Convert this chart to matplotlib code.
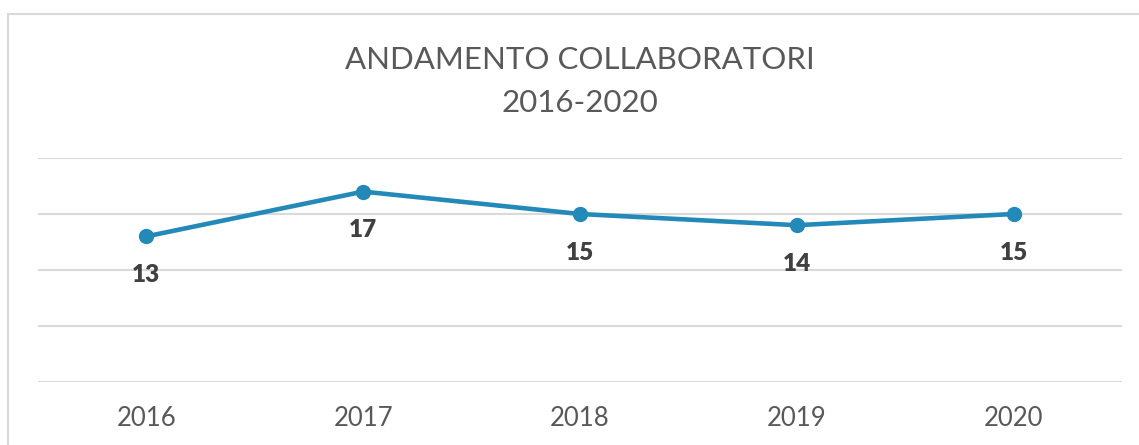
import matplotlib.pyplot as plt
from matplotlib.patches import Rectangle

anni = ['2016', '2017', '2018', '2019', '2020']
collaboratori = [13, 17, 15, 14, 15]

W, H = 1139, 445
fig = plt.figure(figsize=(W / 100, H / 100), dpi=100)
plt.rcParams['font.family'] = ['Lato', 'DejaVu Sans']

# chart frame (goes off the right/bottom edge)
fig.patches.append(Rectangle((8 / W, -0.1), 1.2, (H - 14) / H + 0.1,
                             transform=fig.transFigure, fill=False,
                             edgecolor='#d9d9d9', linewidth=1.5))

ax = fig.add_axes([38 / W, (H - 382) / H, (1122 - 38) / W, (382 - 158) / H])
x = list(range(len(anni)))
ax.plot(x, collaboratori, color='#2389b9', linewidth=3.3, marker='o',
        markersize=10, solid_capstyle='round', zorder=3)

for xi, v in zip(x, collaboratori):
    ax.annotate(str(v), (xi, v), xytext=(0, -28), textcoords='offset points',
                ha='center', va='center', fontsize=17.5, fontweight='heavy',
                color='#404040')

ax.set_xlim(-0.5, len(anni) - 0.5)
ax.set_ylim(0, 20)
ax.set_yticks([0, 5, 10, 15, 20])
ax.set_yticklabels([])
ax.set_xticks(x)
ax.set_xticklabels(anni, fontsize=18.5, color='#595959')
ax.tick_params(length=0, pad=17)
ax.grid(axis='y', color='#d9d9d9', linewidth=1.5)
ax.set_axisbelow(True)
for s in ax.spines.values():
    s.set_visible(False)

fig.text(580 / W, 1 - 60 / H, 'ANDAMENTO COLLABORATORI', ha='center', va='center',
         fontsize=22.5, color='#595959')
fig.text(580 / W, 1 - 103 / H, '2016-2020', ha='center', va='center',
         fontsize=22.5, color='#595959')

fig.savefig('out.png', dpi=100)
